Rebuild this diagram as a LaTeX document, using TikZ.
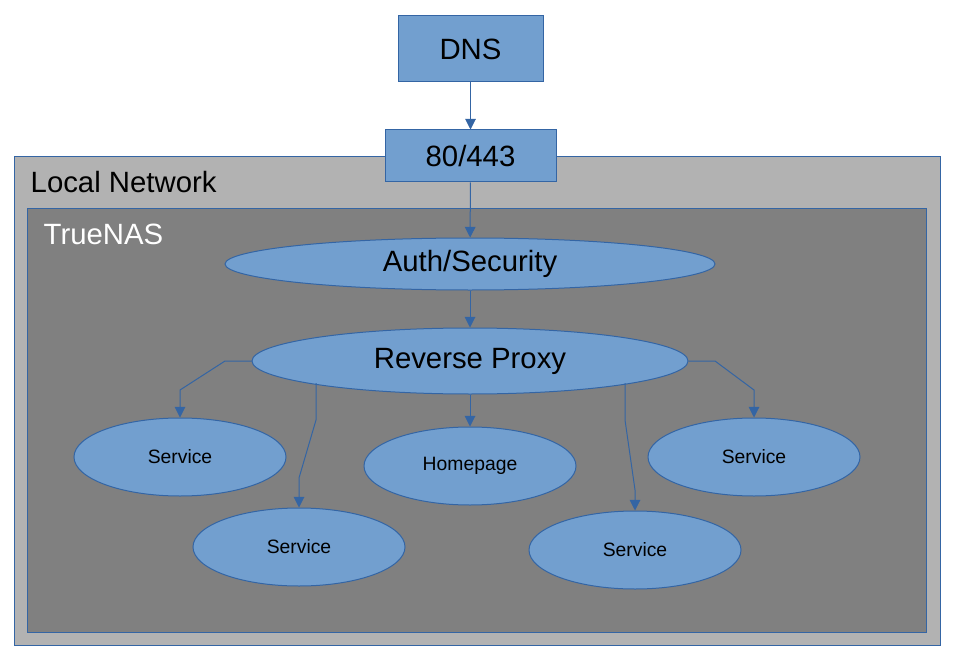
\documentclass[tikz,border=0pt]{standalone}
\usepackage{fontspec}
\setmainfont{Liberation Sans}
\usetikzlibrary{arrows.meta,shapes.geometric}
\definecolor{fillb}{RGB}{114,159,207}
\definecolor{lineb}{RGB}{52,101,164}
\begin{document}
\begin{tikzpicture}[x=0.75pt,y=-0.75pt,
  box/.style={draw=lineb,fill=fillb,line width=0.75pt,inner sep=0pt},
  ell/.style={draw=lineb,fill=fillb,ellipse,line width=0.75pt,inner sep=0pt},
  big/.style={font=\fontsize{22}{26}\selectfont},
  small/.style={font=\fontsize{14.5}{17}\selectfont},
  con/.style={draw=lineb,line width=0.75pt,-{Triangle[length=8pt,width=8pt]}}]
\useasboundingbox (0,0) rectangle (955,659);
\fill[white] (0,0) rectangle (955,659);
\draw[lineb,fill=black!30,line width=0.75pt] (14,157) rectangle (940,645);
\draw[lineb,fill=black!50,line width=0.75pt] (27,209) rectangle (926,632);
\node[big,anchor=west] (ln) at (26,182) {Local Network};
\node[big,anchor=west,white] (tn) at (39,234) {TrueNAS};
\node[box,big,minimum width=145*0.75pt,minimum height=66*0.75pt] (dns) at (470.5,49) {DNS};
\node[box,big,minimum width=171*0.75pt,minimum height=52*0.75pt] (port) at (470.5,156) {80/443};
\node[ell,big,minimum width=490*0.75pt,minimum height=52*0.75pt] (auth) at (470,264) {Auth/Security};
\node[ell,big,minimum width=436*0.75pt,minimum height=66*0.75pt] (rp) at (470,361) {Reverse Proxy};
\foreach \n/\x/\y/\t in {s1/180/457/Service, s2/299/547/Service, hp/470/466/Homepage, s4/635/550/Service, s5/754/457/Service}
  \node[ell,small,minimum width=212*0.75pt,minimum height=78*0.75pt] (\n) at (\x,\y) {\t};
\draw[con] (dns) -- (port);
\draw[con] (port) -- (auth);
\draw[con] (auth) -- (rp);
\draw[con] (rp.south) -- (hp.north);
\draw[con] (rp.west) -- (225,361) -- (180,390) -- (s1.north);
\draw[con] (rp.east) -- (715,361) -- (754,390) -- (s5.north);
\coordinate (a2) at (316,383);
\coordinate (a4) at (625,383);
\draw[con] (a2) -- (316,420) -- (299,478) -- (s2.north);
\draw[con] (a4) -- (625,420) -- (635,490) -- (s4.north);
\end{tikzpicture}
\end{document}
